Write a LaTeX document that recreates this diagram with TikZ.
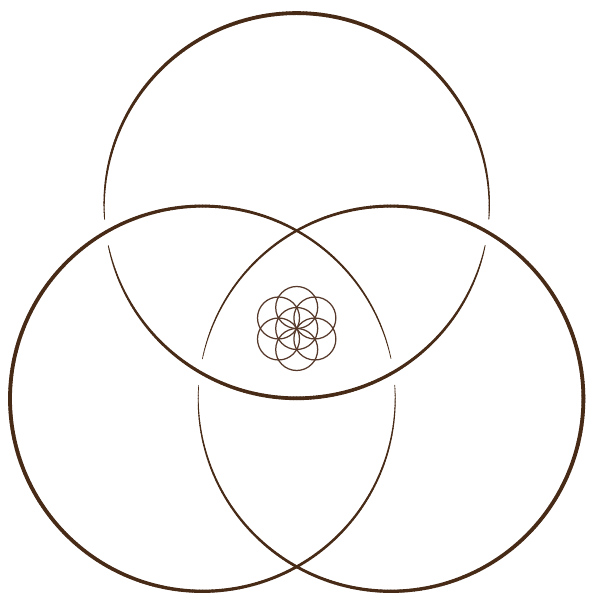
\documentclass[tikz,border=0pt]{standalone}
\usetikzlibrary{calc}
\definecolor{ringbrown}{HTML}{472B17}
\definecolor{seedbrown}{HTML}{56392A}
\tikzset{
  seedring/.style={draw=seedbrown, line width=1.25pt},
}
% #1,#2 centre; #3,#4 angles where the stroke vanishes; #5 profile stretch
\newcommand{\drawtaperring}[5]{%
  \foreach \a in {0,1,...,359}{%
    \pgfmathsetmacro\dA{mod(abs(\a+0.5-#3),360)}%
    \pgfmathsetmacro\dB{mod(abs(\a+0.5-#4),360)}%
    \pgfmathsetmacro\dd{min(min(\dA,360-\dA),min(\dB,360-\dB))}%
    \pgfmathsetmacro\w{\dd<4 ? 0 : 3.8*pow(sin(min(\dd*#5,180)/2),0.55)}%
    \ifdim\w pt>0.02pt
      \draw[ringbrown, line width=\w pt, line cap=round]
        ($(#1,#2)+(\a:192.6)$) arc[start angle=\a, end angle=\a+1.05, radius=192.6];
    \fi
  }%
}
\begin{document}
\begin{tikzpicture}[x=1pt,y=1pt]
  \useasboundingbox (0,0) rectangle (600,600);
  \fill[white] (0,0) rectangle (600,600);
  % three large rings (centres in a y-up frame, 600 - screen y)
  \coordinate (ctop) at (296.7,394.3);
  \coordinate (cleft) at (202.6,201.3);
  \coordinate (cright) at (390.8,201.3);
  \drawtaperring{296.7}{394.3}{187.9}{352.1}{1.8}
  \drawtaperring{202.6}{201.3}{7.9}{7.9}{1}
  \drawtaperring{390.8}{201.3}{172.1}{172.1}{1}
  % seed of life
  \coordinate (seed) at (296.7,271.5);
  \draw[seedring] (seed) circle[radius=21];
  \foreach \k in {30,90,150,210,270,330}{
    \draw[seedring] ($(seed)+(\k:21)$) circle[radius=21];
  }
\end{tikzpicture}
\end{document}
